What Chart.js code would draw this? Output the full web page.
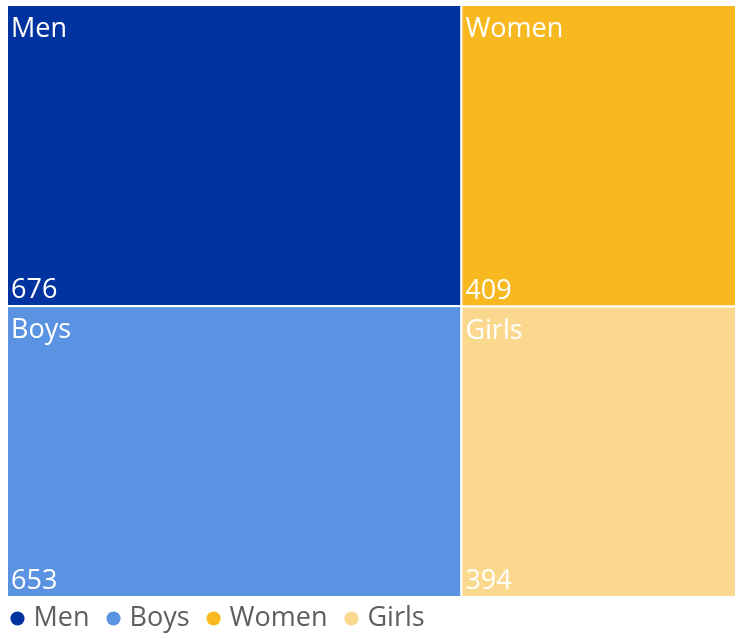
<!DOCTYPE html>
<html><head><meta charset="utf-8">
<script src="https://cdn.jsdelivr.net/npm/chart.js@4/dist/chart.umd.min.js"></script>
<style>html,body{margin:0;padding:0;background:#fff}#wrap{width:736px;height:639px;position:relative}</style>
</head><body><div id="wrap"><canvas id="c"></canvas></div>
<script>
const categories = ['Men', 'Boys', 'Women', 'Girls'];
const values = [676, 653, 409, 394];
const groups = [['Men', 'Boys'], ['Women', 'Girls']];
const colors = ['#0033A0', '#5B93E3', '#F8B81F', '#FAD98E'];
const legendOrder = ['Men', 'Boys', 'Women', 'Girls'];

const FONT = '"Open Sans", "Noto Sans", sans-serif';
const total = values.reduce((a, b) => a + b, 0);

const treemapPlugin = {
  id: 'treemap',
  beforeDatasetsDraw(chart) {
    const {ctx, scales: {x, y}} = chart;
    let xStart = 0;
    groups.forEach(group => {
      const idx = group.map(n => categories.indexOf(n));
      const colTotal = idx.reduce((s, i) => s + values[i], 0);
      const xEnd = xStart + colTotal;
      let yStart = 0;
      idx.forEach(i => {
        const yEnd = yStart + values[i] / colTotal;
        const left = x.getPixelForValue(xStart), right = x.getPixelForValue(xEnd);
        const top = y.getPixelForValue(yStart), bottom = y.getPixelForValue(yEnd);
        ctx.save();
        ctx.fillStyle = colors[i];
        ctx.fillRect(left, top, right - left, bottom - top);
        ctx.strokeStyle = '#ffffff';
        ctx.lineWidth = 2;
        ctx.strokeRect(left, top, right - left, bottom - top);
        ctx.fillStyle = '#ffffff';
        ctx.font = '27px ' + FONT;
        ctx.textAlign = 'left';
        ctx.textBaseline = 'alphabetic';
        ctx.fillText(categories[i], left + 4, top + 32);
        ctx.fillText(String(values[i]), left + 4, bottom - 8);
        ctx.restore();
        yStart = yEnd;
      });
      xStart = xEnd;
    });
  }
};

const datasets = legendOrder.map(name => {
  const i = categories.indexOf(name);
  return {
    label: name + '\u2002',
    data: [],
    backgroundColor: colors[i],
    borderColor: colors[i],
    borderWidth: 0,
    pointStyle: 'circle'
  };
});

new Chart(document.getElementById('c'), {
  type: 'scatter',
  data: { datasets },
  options: {
    responsive: true,
    maintainAspectRatio: false,
    animation: false,
    layout: { padding: { left: 7, right: 0, top: 5, bottom: -3 } },
    scales: {
      x: { type: 'linear', min: 0, max: total, display: false },
      y: { type: 'linear', min: 0, max: 1, reverse: true, display: false }
    },
    plugins: {
      tooltip: { enabled: false },
      legend: {
        position: 'bottom',
        align: 'start',
        labels: {
          usePointStyle: true,
          boxWidth: 5,
          boxHeight: 10,
          padding: 8,
          color: '#605E5C',
          font: { family: FONT, size: 27 }
        }
      }
    }
  },
  plugins: [treemapPlugin]
});
</script>
</body></html>
